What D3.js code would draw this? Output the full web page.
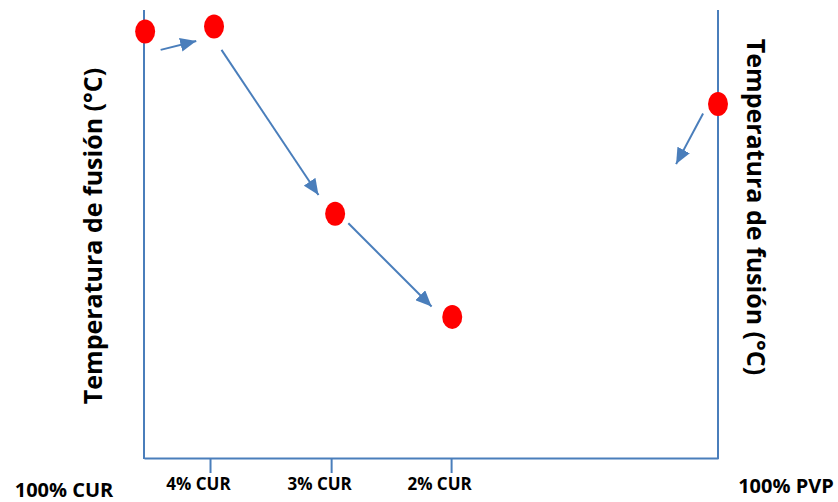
<!DOCTYPE html>
<html>
<head>
<meta charset="utf-8">
<script src="https://cdn.jsdelivr.net/npm/d3@7"></script>
<style>
  html, body { margin: 0; padding: 0; background: #fff; }
  svg { display: block; }
  text { font-family: "Open Sans", sans-serif; font-weight: bold; fill: #000; }
</style>
</head>
<body>
<div id="chart"></div>
<script>
// ---- data ----
const categories = ["100% CUR", "4% CUR", "3% CUR", "2% CUR", "100% PVP"];
const categoryPos = [0, 11.5, 32.6, 53.5, 100];          // composition axis position (0..100)
const pointX = [0.2, 12.2, 33.3, 53.7, 100];             // melting points, x position
const pointY = [95.2, 96.3, 54.5, 31.5, 79.0];           // melting temperature (relative)
const arrowX1 = [2.9, 13.5, 35.6, 97.4];
const arrowY1 = [91.1, 91.1, 52.4, 76.9];
const arrowX2 = [9.1, 30.4, 50.1, 92.7];
const arrowY2 = [93.1, 58.7, 33.8, 65.6];
const yTitle = "Temperatura de fusión (°C)";

const W = 838, H = 502;
const blue = "#4a7ebb", red = "#ff0000";

const svg = d3.select("#chart").append("svg").attr("width", W).attr("height", H);

const x = d3.scaleLinear().domain([0, 100]).range([144, 718]);
const y = d3.scaleLinear().domain([0, 100]).range([458, 10]);

svg.append("defs").append("marker")
  .attr("id", "ah").attr("markerUnits", "userSpaceOnUse")
  .attr("viewBox", "0 0 16 14").attr("refX", 16).attr("refY", 7)
  .attr("markerWidth", 16).attr("markerHeight", 14).attr("orient", "auto")
  .append("path").attr("d", "M0,0 L16,7 L0,14 Z").attr("fill", blue);

// bottom axis with inner ticks
const inner = categories.slice(1, 4);
const innerPos = categoryPos.slice(1, 4);
const ax = svg.append("g").attr("transform", `translate(0,${y(0)})`)
  .call(d3.axisBottom(x).tickValues(innerPos).tickSize(15).tickSizeOuter(0)
    .tickFormat((d, i) => inner[i]));
ax.selectAll("path.domain, line").attr("stroke", blue).attr("stroke-width", 2);
ax.selectAll("text").attr("font-size", 17).attr("font-family", "'Open Sans', sans-serif")
  .attr("font-weight", "bold").attr("fill", "#000").attr("dx", -12).attr("y", 20);

// left & right vertical axes
[0, 100].forEach(v => {
  svg.append("line").attr("x1", x(v)).attr("x2", x(v)).attr("y1", y(0) + 1).attr("y2", y(100))
    .attr("stroke", blue).attr("stroke-width", 2);
});

// end labels
svg.append("text").attr("x", x(categoryPos[0]) - 80).attr("y", 497)
  .attr("text-anchor", "middle").attr("font-size", 20).text(categories[0]);
svg.append("text").attr("x", x(categoryPos[4]) + 68).attr("y", 493)
  .attr("text-anchor", "middle").attr("font-size", 20).text(categories[4]);

// axis titles
svg.append("text").attr("transform", "translate(102,236) rotate(-90)")
  .attr("text-anchor", "middle").attr("font-size", 25).text(yTitle);
svg.append("text").attr("transform", "translate(747,207) rotate(90)")
  .attr("text-anchor", "middle").attr("font-size", 25).text(yTitle);

// arrows
svg.selectAll("line.arrow").data(arrowX1).enter().append("line").attr("class", "arrow")
  .attr("x1", (d, i) => x(arrowX1[i])).attr("y1", (d, i) => y(arrowY1[i]))
  .attr("x2", (d, i) => x(arrowX2[i])).attr("y2", (d, i) => y(arrowY2[i]))
  .attr("stroke", blue).attr("stroke-width", 2).attr("marker-end", "url(#ah)");

// points
svg.selectAll("ellipse").data(pointX).enter().append("ellipse")
  .attr("cx", (d, i) => x(pointX[i])).attr("cy", (d, i) => y(pointY[i]))
  .attr("rx", 10).attr("ry", 12).attr("fill", red);
</script>
</body>
</html>
